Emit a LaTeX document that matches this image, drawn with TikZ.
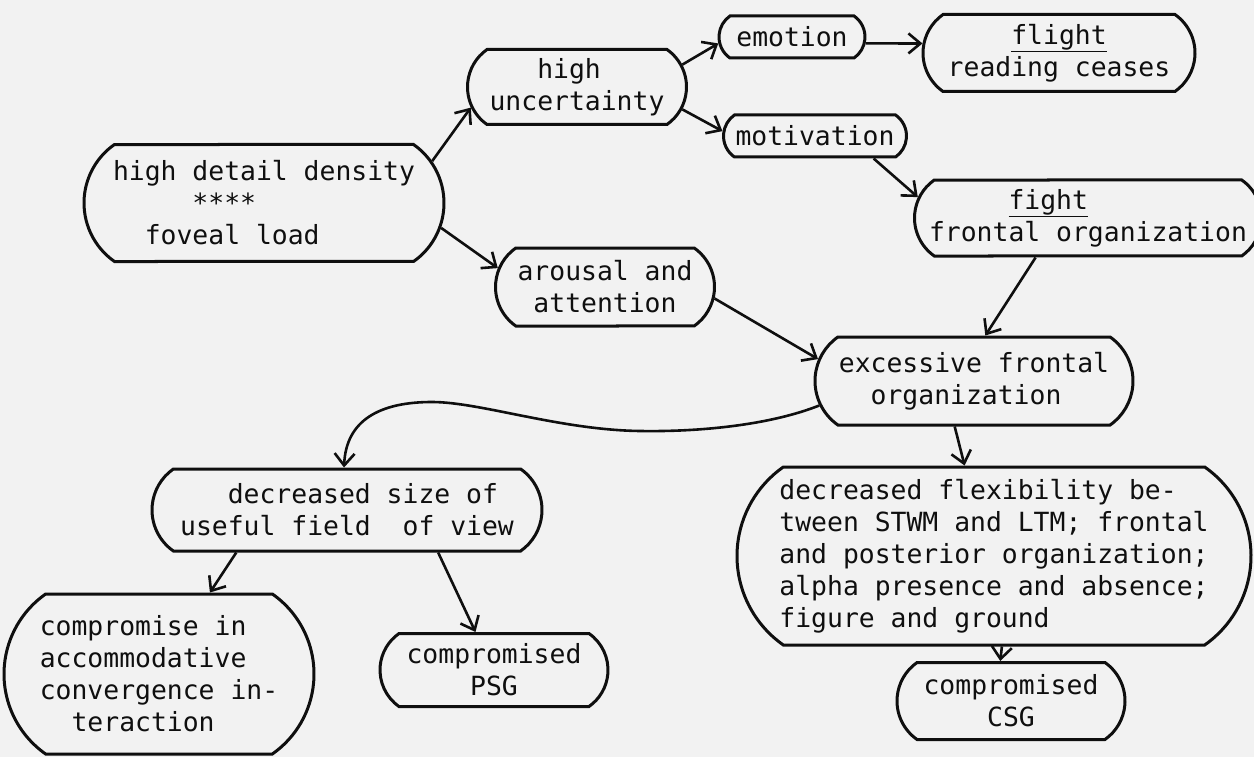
\documentclass[tikz,border=0pt]{standalone}
\usepackage{fontspec}
\setmonofont{DejaVu Sans Mono}
\usetikzlibrary{shapes.misc,arrows.meta}
\definecolor{ink}{gray}{0.06}
\definecolor{paper}{gray}{0.95}
\begin{document}
\begin{tikzpicture}[x=1pt,y=-1pt,
  box/.style={rounded rectangle, rounded rectangle arc length=110, draw=ink,
    line width=3pt, inner ysep=0pt, inner xsep=-6pt, align=left, text=ink,
    font=\ttfamily\fontsize{26.4}{32}\selectfont},
  conn/.style={draw=ink, line width=2.6pt, -{Straight Barb[length=12pt,width=20pt]}}]
\fill[paper] (0,0) rectangle (1254,757);
\useasboundingbox (0,0) rectangle (1254,757);

\node[box, minimum width=348pt, minimum height=117pt] (hdd) at (264,203)
  {high detail density\\\hphantom{00000}****\\\hphantom{00}foveal load};
\node[box, minimum width=207pt, minimum height=75pt] (hu) at (577,87)
  {\hphantom{000}high\\uncertainty};
\node[box, minimum width=207pt, minimum height=78pt] (aro) at (605,287)
  {arousal and\\\hphantom{0}attention};
\node[box, minimum width=134pt, minimum height=42pt] (emo) at (792,37)
  {emotion};
\node[box, minimum width=260pt, minimum height=77pt] (fli) at (1059,53)
  {\hphantom{0000}\underline{flight}\\reading ceases};
\node[box, minimum width=171pt, minimum height=42pt] (mot) at (815,136)
  {motivation};
\node[box, minimum width=335pt, minimum height=76pt] (fig) at (1088,218)
  {\hphantom{00000}\underline{fight}\\frontal organization};
\node[box, minimum width=306pt, minimum height=88pt] (exc) at (974,381)
  {excessive frontal\\\hphantom{00}organization};
\node[box, minimum width=378pt, minimum height=82pt] (dsf) at (347,510)
  {\hphantom{000}decreased size of\\useful field\hphantom{00}of view};
\node[box, minimum width=298pt, minimum height=160pt] (com) at (159,674)
  {compromise in\\accommodative\\convergence in-\\\hphantom{00}teraction};
\node[box, minimum width=216pt, minimum height=73pt] (psg) at (494,670)
  {compromised\\\hphantom{0000}PSG};
\node[box, minimum width=502pt, minimum height=178pt] (dfl) at (994,556)
  {decreased flexibility be-\\tween STWM and LTM; frontal\\and posterior organization;\\alpha presence and absence;\\figure and ground};
\node[box, minimum width=216pt, minimum height=77pt] (csg) at (1011,701)
  {compromised\\\hphantom{0000}CSG};

\draw[conn] (hdd.14) -- (hu.191);
\draw[conn] (hdd.-8) -- (aro.170);
\draw[conn] (hu.12) -- (emo.185);
\draw[conn] (emo.-5) -- (fli.176);
\draw[conn] (hu.-12) -- (mot.177);
\draw[conn] (mot.-21) -- (fig.173);
\draw[conn] (fig.-143) -- (exc.76);
\draw[conn] (aro.-6) -- (exc.172);
\draw[conn] (exc.189) .. controls (770,425) and (700,432) .. (640,431)
  .. controls (560,430) and (480,402) .. (432,402)
  .. controls (380,402) and (346,420) .. (dsf.94);
\draw[conn] (exc.-113) -- (dfl.108);
\draw[conn] (dsf.-159) -- (com.58);
\draw[conn] (dsf.-25) -- (psg.116);
\draw[conn] (dfl.-85) -- (csg.105);
\end{tikzpicture}
\end{document}
